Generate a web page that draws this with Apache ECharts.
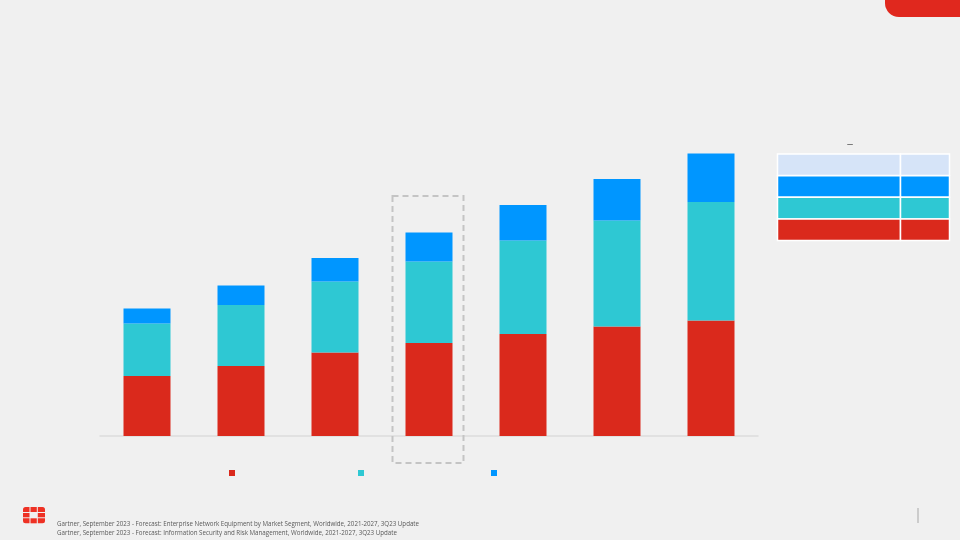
<!DOCTYPE html>
<html>
<head>
<meta charset="utf-8">
<script src="https://cdn.jsdelivr.net/npm/echarts@6/dist/echarts.min.js"></script>
<style>
html,body{margin:0;padding:0;background:#f0f0f0;}
#c{width:960px;height:540px;}
</style>
</head>
<body>
<div id="c"></div>
<script>
// Categories (years, labels hidden in the reference)
var categories = ['2021','2022','2023','2024','2025','2026','2027'];
// Stacked series values (relative units)
var redValues  = [60, 70, 83.5, 93, 102, 109.5, 115.5];
var tealValues = [52.5, 61, 71, 81.5, 93.5, 106, 118.5];
var blueValues = [15, 19.5, 23.5, 29, 35.5, 41.5, 48.5];
var seriesNames = ['Segment A', 'Segment B', 'Segment C'];
var footerLines = [
  'Gartner, September 2023 - Forecast: Enterprise Network Equipment by Market Segment, Worldwide, 2021-2027, 3Q23 Update',
  'Gartner, September 2023 - Forecast: Information Security and Risk Management, Worldwide, 2021-2027, 3Q23 Update'
];

var RED = '#DA291C', TEAL = '#2EC8D3', BLUE = '#0096FF', LIGHT = '#D6E4F8';

var chart = echarts.init(document.getElementById('c'), null, {renderer:'canvas'});

function legendAt(left, name){
  return {
    left: left, top: 470, padding: 0, data: [name], icon: 'rect',
    itemWidth: 6, itemHeight: 6, formatter: function(){return '';},
    textStyle:{fontSize:1}, selectedMode:false
  };
}

var graphics = [
  // dashed highlight box
  {type:'rect', shape:{x:392.5, y:196, width:71, height:267}, style:{fill:'none', stroke:'#c4c4c4', lineWidth:2, lineDash:[6,4]}, z:1},
  // top-right red tab
  {type:'rect', shape:{x:885, y:-1, width:80, height:18, r:[0,0,0,14]}, style:{fill:'#E0281E'}},
  // vertical divider bottom-right
  {type:'rect', shape:{x:917.5, y:508, width:1, height:15}, style:{fill:'#a8a8a8'}},
  // footer text
  {type:'text', left:57, top:521, style:{text:footerLines[0], fill:'#595959', font:'6.2px "Open Sans", sans-serif'}},
  {type:'text', left:57, top:530, style:{text:footerLines[1], fill:'#595959', font:'6.2px "Open Sans", sans-serif'}},
  // dash above table
  {type:'text', x:850, y:144, style:{text:'–', fill:'#555', font:'10px "Liberation Sans", sans-serif', align:'center', verticalAlign:'middle'}}
];

// table on right
var rowTops = [154, 175.7, 197.3, 219];
var rowH = 21.6;
var rowColors = [LIGHT, BLUE, TEAL, RED];
for (var i=0;i<4;i++){
  graphics.push({type:'rect', shape:{x:777.5, y:rowTops[i], width:123, height:rowH}, style:{fill:rowColors[i], stroke:'#ffffff', lineWidth:1.5}});
  graphics.push({type:'rect', shape:{x:900.5, y:rowTops[i], width:49, height:rowH}, style:{fill:rowColors[i], stroke:'#ffffff', lineWidth:1.5}});
}

// logo
var lc = '#EE3124';
var cols = [[23,6.5],[30.5,6.3],[37.8,7.2]];
var rows = [[507,5],[513,4.3],[518.3,5]];
for (var r=0;r<3;r++){
  for (var c=0;c<3;c++){
    if (r===1 && c===1) continue;
    var rad = [0,0,0,0];
    if (r===0 && c===0) rad=[2.5,0,0,0];
    if (r===0 && c===2) rad=[0,2.5,0,0];
    if (r===2 && c===0) rad=[0,0,0,2.5];
    if (r===2 && c===2) rad=[0,0,2.5,0];
    graphics.push({type:'rect', shape:{x:cols[c][0], y:rows[r][0], width:cols[c][1], height:rows[r][1], r:rad}, style:{fill:lc}});
  }
}

chart.setOption({
  backgroundColor:'#f0f0f0',
  animation:false,
  grid:{left:100, right:202, top:136, bottom:104},
  legend:[legendAt(229, seriesNames[0]), legendAt(358, seriesNames[1]), legendAt(491, seriesNames[2])],
  xAxis:{type:'category', data:categories, axisTick:{show:false}, axisLabel:{show:false},
    axisLine:{lineStyle:{color:'#dcdcdc', width:1.5}}},
  yAxis:{type:'value', min:0, max:300, show:false, splitLine:{show:false}},
  series:[
    {name:seriesNames[0], type:'bar', stack:'s', data:redValues, barWidth:47, itemStyle:{color:RED}},
    {name:seriesNames[1], type:'bar', stack:'s', data:tealValues, barWidth:47, itemStyle:{color:TEAL}},
    {name:seriesNames[2], type:'bar', stack:'s', data:blueValues, barWidth:47, itemStyle:{color:BLUE}}
  ],
  graphic:graphics
});
</script>
</body>
</html>
